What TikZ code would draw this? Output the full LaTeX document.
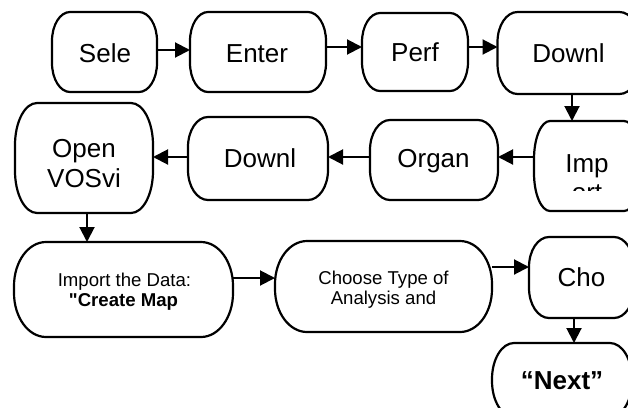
\documentclass[tikz,border=0pt]{standalone}
\usepackage{fontspec}
\setmainfont{Liberation Sans}[Ligatures=TeXOff]
\usetikzlibrary{arrows.meta}
\newcommand{\rrbox}[3]{%
  \draw[boxline] ([xshift=#2]#1.north west) -- ([xshift=-#2]#1.north east)
    arc[start angle=90,end angle=0,x radius=#2,y radius=#3]
    -- ([yshift=#3]#1.south east)
    arc[start angle=0,end angle=-90,x radius=#2,y radius=#3]
    -- ([xshift=#2]#1.south west)
    arc[start angle=270,end angle=180,x radius=#2,y radius=#3]
    -- ([yshift=-#3]#1.north west)
    arc[start angle=180,end angle=90,x radius=#2,y radius=#3] -- cycle;}
\tikzset{
  boxline/.style={draw=black, line width=2.2pt, line join=round},
  frame/.style={shape=rectangle, inner sep=0pt, outer sep=0pt},
  big/.style={font=\fontsize{26}{30}\selectfont, anchor=base, inner sep=0pt},
  small/.style={font=\fontsize{18.6}{22}\selectfont, anchor=base, inner sep=0pt},
  arr/.style={line width=2pt, -{Triangle[length=15pt,width=15pt]}},
}
\begin{document}
\begin{tikzpicture}[x=1pt,y=-1pt]
\useasboundingbox (0,0) rectangle (628,407);
\clip (0,0) rectangle (628,407);
% frames
\node[frame, minimum width=105pt, minimum height=80pt] (sele) at (104.5,52) {};
\node[frame, minimum width=136pt, minimum height=80pt] (enter) at (258,52) {};
\node[frame, minimum width=106pt, minimum height=78pt] (perf) at (415,52) {};
\node[frame, minimum width=142pt, minimum height=82pt] (downA) at (568.5,53) {};
\node[frame, minimum width=106pt, minimum height=90pt] (imp) at (587,166) {};
\node[frame, minimum width=128pt, minimum height=80pt] (organ) at (434,160) {};
\node[frame, minimum width=140pt, minimum height=83pt] (downB) at (258,158.5) {};
\node[frame, minimum width=138pt, minimum height=110pt] (open) at (84,158) {};
\node[frame, minimum width=219pt, minimum height=95pt] (import) at (123.5,289.5) {};
\node[frame, minimum width=217pt, minimum height=91pt] (choose) at (383.5,286.5) {};
\node[frame, minimum width=105pt, minimum height=81pt] (cho) at (581.5,277.5) {};
\node[frame, minimum width=140pt, minimum height=74pt] (next) at (562,380) {};
% outlines
\rrbox{sele}{18pt}{29pt}
\rrbox{enter}{18pt}{29pt}
\rrbox{perf}{18pt}{29pt}
\rrbox{downA}{20pt}{30pt}
\rrbox{imp}{16pt}{38pt}
\rrbox{organ}{20pt}{30pt}
\rrbox{downB}{20pt}{30pt}
\rrbox{open}{22pt}{42pt}
\rrbox{import}{32pt}{44pt}
\rrbox{choose}{32pt}{43pt}
\rrbox{cho}{20pt}{30pt}
\rrbox{next}{22pt}{36pt}
% texts
\node[big] (seleT) at (105,62) {Sele};
\node[big] (enterT) at (257,62) {Enter};
\node[big] (perfT) at (415,61.5) {Perf};
\node[big] (downAT) at (568.5,62) {Downl};
\node[big] (impT) at (587,172) {Imp};
\begin{scope}
\clip (540,150) rectangle (628,190);
\node[big] (impT2) at (587,201) {ort};
\end{scope}
\node[big] (organT) at (433.5,167) {Organ};
\node[big] (downBT) at (260,167) {Downl};
\node[big] (openT1) at (84,157) {Open};
\node[big] (openT2) at (84,187) {VOSvi};
\node[small] (importT1) at (124.5,286) {Import the Data:};
\node[small] (importT2) at (123.5,306) {\bfseries "Create Map};
\node[small] (chooseT1) at (383.5,284) {Choose Type of};
\node[small] (chooseT2) at (383.5,304) {Analysis and};
\node[big] (choT) at (581.5,286) {Cho};
\node[big] (nextT) at (562,389) {\bfseries “Next”};
% connectors
\draw[arr] ([yshift=2pt]sele.east) -- ([yshift=2pt]sele.east -| enter.west);
\draw[arr] ([yshift=5pt]enter.east) -- ([yshift=5pt]enter.east -| perf.west);
\draw[arr] ([yshift=5pt]perf.east) -- ([yshift=5pt]perf.east -| downA.west);
\draw[arr] ([xshift=3.5pt]downA.south) -- ([xshift=3.5pt]downA.south |- imp.north);
\draw[arr] ([yshift=9pt]imp.west) -- ([yshift=9pt]imp.west -| organ.east);
\draw[arr] ([yshift=3pt]organ.west) -- ([yshift=3pt]organ.west -| downB.east);
\draw[arr] ([yshift=1.5pt]downB.west) -- ([yshift=1.5pt]downB.west -| open.east);
\draw[arr] ([xshift=3pt]open.south) -- ([xshift=3pt]open.south |- import.north);
\draw[arr] ([yshift=11.5pt]import.east) -- ([yshift=11.5pt]import.east -| choose.west);
\draw[arr] ([yshift=19.5pt]choose.east) -- ([yshift=19.5pt]choose.east -| cho.west);
\draw[arr] ([xshift=-7.5pt]cho.south) -- ([xshift=-7.5pt]cho.south |- next.north);
\end{tikzpicture}
\end{document}
